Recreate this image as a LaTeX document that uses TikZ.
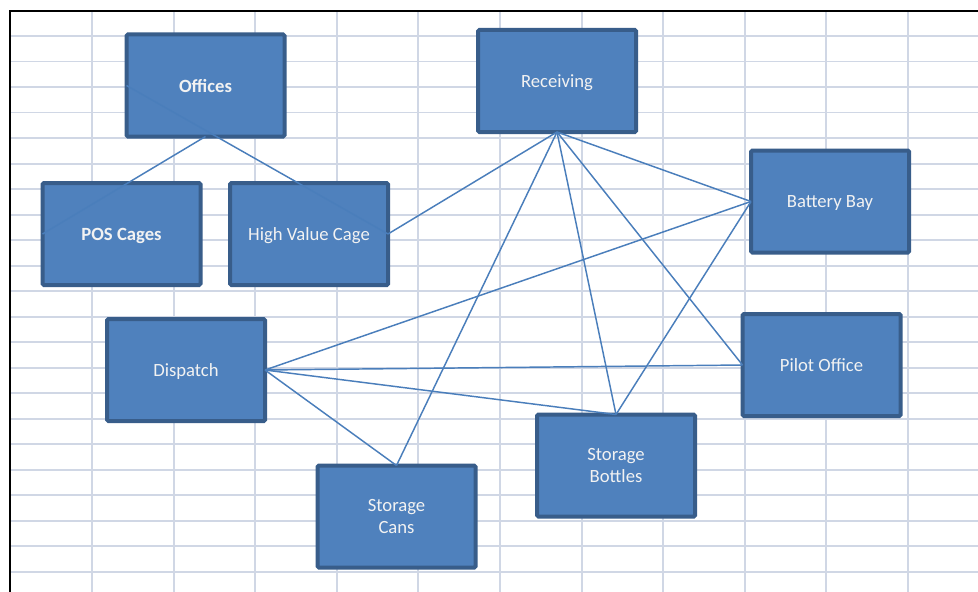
\documentclass[tikz,border=0pt]{standalone}
\usepackage{fontspec}
\setmainfont{Carlito}
\definecolor{boxfill}{HTML}{4F81BD}
\definecolor{boxline}{HTML}{385D8A}
\definecolor{linkblue}{HTML}{4A7EBB}
\definecolor{cellline}{HTML}{D0D7E5}
\begin{document}
\begin{tikzpicture}[x=0.75pt, y=-0.75pt,
  area/.style={rectangle, rounded corners=1pt, fill=boxfill, draw=boxline, line width=3pt,
    minimum width=118.5pt, minimum height=76.5pt, outer sep=0pt, inner sep=2pt,
    text=white!95!black, font=\fontsize{14}{17}\selectfont, align=center, text depth=0pt},
  link/.style={linkblue, line width=1.1pt},
  cellgrid/.style={cellline, line width=1.4pt}]
\useasboundingbox (0,0) rectangle (978,592);
\fill[white] (0,0) rectangle (978,592);
\foreach \i in {0,...,10}
  \draw[cellgrid] ({92+81.6*\i},11) -- ({92+81.6*\i},592);
\foreach \j in {0,...,21}
  \draw[cellgrid] (10,{36+25.52*\j}) -- (978,{36+25.52*\j});
\draw[black, line width=2pt] (10,592) -- (10,11) -- (978,11);

\node[area] (offices) at (205.5,85.5) {\textbf{Offices}};
\node[area] (poscages) at (121.5,234) {\textbf{POS Cages}};
\node[area] (highvalue) at (309,234) {High Value Cage};
\node[area] (receiving) at (557,81) {Receiving};
\node[area] (battery) at (830,201.5) {Battery Bay};
\node[area] (dispatch) at (186,370) {Dispatch};
\node[area] (pilot) at (821.5,365) {Pilot Office};
\node[area] (bottles) at (616,465.5) {Storage\\Bottles};
\node[area] (cans) at (396.5,516.5) {Storage\\Cans};

\draw[link] (offices.south) -- (poscages.west);
\draw[link] (offices.west) -- (highvalue.east);
\draw[link] (receiving.south) -- (highvalue.east);
\draw[link] (receiving.south) -- (battery.west);
\draw[link] (receiving.south) -- (pilot.west);
\draw[link] (receiving.south) -- (bottles.north);
\draw[link] (receiving.south) -- (cans.north);
\draw[link] (battery.west) -- (dispatch.east);
\draw[link] (battery.west) -- (bottles.north);
\draw[link] (dispatch.east) -- (pilot.west);
\draw[link] (dispatch.east) -- (bottles.north);
\draw[link] (dispatch.east) -- (cans.north);
\end{tikzpicture}
\end{document}
